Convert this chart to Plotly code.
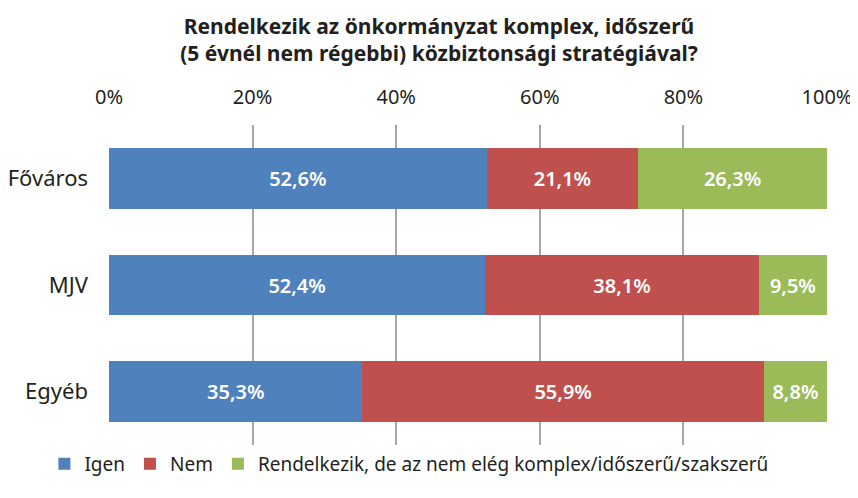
import plotly.graph_objects as go

categories = ["Főváros", "MJV", "Egyéb"]
igen = [52.6, 52.4, 35.3]
nem = [21.1, 38.1, 55.9]
rendelkezik_de = [26.3, 9.5, 8.8]
series_names = ["Igen", "Nem", "Rendelkezik, de az nem elég komplex/időszerű/szakszerű"]
colors = ["#4F81BD", "#C0504D", "#9BBB59"]
tick_vals = [0, 20, 40, 60, 80, 100]
tick_text = ["0%", "20%", "40%", "60%", "80%", "100%"]

FONT = "Noto Sans"
# page body has an 8px margin; figure sized so it fills the 858x498 window
W, H = 850, 490
fig = go.Figure()
for name, vals, col in zip(series_names, [igen, nem, rendelkezik_de], colors):
    fig.add_trace(go.Bar(
        y=categories, x=vals, name=name, orientation="h",
        marker=dict(color=col, line=dict(width=0)),
        texttemplate="%{x:.1f}%", textposition="inside", insidetextanchor="middle",
        textfont=dict(color="white", size=20, family=FONT, weight=600),
        width=0.57,
    ))

fig.update_layout(
    barmode="stack",
    width=W, height=H,
    separators=", ",
    paper_bgcolor="white", plot_bgcolor="white",
    margin=dict(l=101, r=31, t=117, b=53, autoexpand=False),
    font=dict(family=FONT, color="#231F20"),
    title=dict(
        text="Rendelkezik az önkormányzat komplex, időszerű<br>(5 évnél nem régebbi) közbiztonsági stratégiával?",
        x=(439 - 8) / W, xanchor="center", y=1 - 26 / H, yanchor="middle", yref="container",
        font=dict(size=21, family=FONT, weight="bold", color="#231F20"),
    ),
    xaxis=dict(
        side="top", range=[0, 100], tickvals=tick_vals, ticktext=tick_text,
        showgrid=True, gridcolor="#A6A6A6", gridwidth=2,
        zeroline=False, showline=False, ticks="", automargin=False,
        tickfont=dict(size=20, family=FONT), ticklabelstandoff=16, fixedrange=True,
    ),
    yaxis=dict(
        categoryorder="array", categoryarray=categories, autorange="reversed",
        showgrid=False, zeroline=False, showline=False, ticks="", automargin=False,
        tickfont=dict(size=22, family=FONT), ticklabelstandoff=20,
    ),
    legend=dict(
        orientation="h", x=-0.09, xanchor="left",
        y=0, yanchor="top",
        font=dict(size=19, family=FONT), itemwidth=30, traceorder="normal",
    ),
    bargap=0.43,
)

fig.write_html("out.html")
